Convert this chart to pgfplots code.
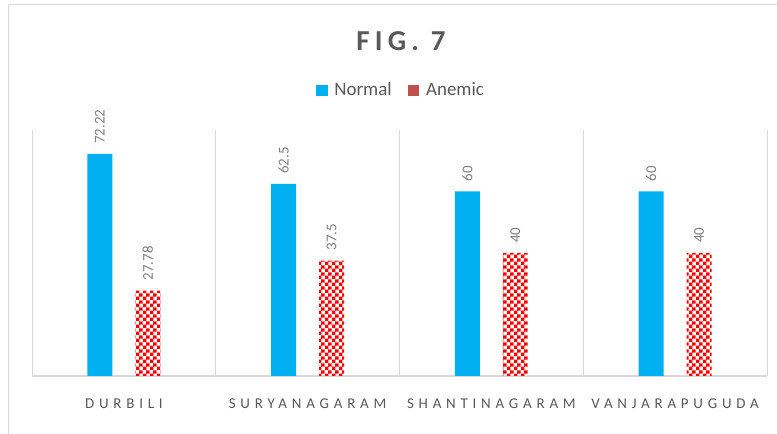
\documentclass[border=0pt]{standalone}
\usepackage{fontspec}
\setmainfont{Carlito}
\newfontfamily\titlefont[LetterSpace=18]{Carlito}
\newfontfamily\catfont[LetterSpace=32]{Carlito}
\usepackage{pgfplots}
\pgfplotsset{compat=1.18}
\usetikzlibrary{patterns}
\pgfdeclarepatternformonly{bigcheck}{\pgfpointorigin}{\pgfqpoint{7.2bp}{7.2bp}}{\pgfqpoint{7.2bp}{7.2bp}}{%
 \pgfpathrectangle{\pgfpointorigin}{\pgfqpoint{3.65bp}{3.65bp}}%
 \pgfpathrectangle{\pgfqpoint{3.6bp}{3.6bp}}{\pgfqpoint{3.65bp}{3.65bp}}%
 \pgfusepath{fill}}
\definecolor{nblue}{HTML}{00B0F0}
\definecolor{ared}{HTML}{FF0000}
\definecolor{legred}{HTML}{C0504D}
\definecolor{txt}{HTML}{595959}
\definecolor{lbl}{HTML}{7F7F7F}
\definecolor{framec}{HTML}{D9D9D9}
\begin{document}
\begin{tikzpicture}[x=1bp,y=1bp]
\useasboundingbox (0,0) rectangle (777,434);
\draw[framec, line width=1.5bp] (8.5,0) -- (8.5,429.5) -- (777,429.5);
\node[anchor=base, text=txt, inner sep=0, font=\titlefont\bfseries\fontsize{29}{32}\selectfont] at (401,383) {FIG. 7};
\begin{axis}[
  at={(32bp,58bp)}, anchor=south west,
  width=735bp, height=246bp, scale only axis,
  xmin=-0.5, xmax=3.5, ymin=0, ymax=80,
  axis line style={draw=none},
  ytick=\empty,
  xtick={0,1,2,3},
  xticklabels={DURBILI,SURYANAGARAM,SHANTINAGARAM,VANJARAPUGUDA},
  major tick length=0,
  xticklabel style={font=\catfont\fontsize{15}{17}\selectfont, text=txt, yshift=-19bp},
  extra x ticks={-0.5,0.5,1.5,2.5,3.5},
  extra x tick labels={},
  extra x tick style={grid=major, major grid style={framec, line width=1bp}},
  extra y ticks={0},
  extra y tick labels={},
  extra y tick style={grid=major, major grid style={framec, line width=1.2bp}},
  /pgf/number format/assume math mode=true,
  nodes near coords style={font=\fontsize{15}{17}\selectfont, text=lbl, rotate=90, anchor=west, inner xsep=10bp, inner ysep=0bp},
  legend columns=2,
  legend style={draw=none, fill=none, at={(0.502,1.163)}, anchor=center,
    font=\fontsize{19}{21}\selectfont, text=txt,
    /tikz/every even column/.append style={column sep=14bp}},
  clip=false,
]
\addlegendimage{legend image code/.code={\fill[nblue] (0bp,-5.5bp) rectangle (10.5bp,5bp); \path (16bp,0);}}
\addlegendentry{Normal}
\addlegendimage{legend image code/.code={\fill[legred] (0bp,-5.5bp) rectangle (10.5bp,5bp); \path (16bp,0);}}
\addlegendentry{Anemic}
% bars offset by +/-24bp from the category centre (0.1306 axis units)
\addplot[ybar, forget plot, bar width=25bp, bar shift=0pt, fill=nblue, draw=none, nodes near coords]
  coordinates {(-0.1306,72.22) (0.8694,62.5) (1.8694,60) (2.8694,60)};
\addplot[ybar, forget plot, bar width=25bp, bar shift=0pt, pattern=bigcheck, pattern color=ared, draw=none, nodes near coords]
  coordinates {(0.1306,27.78) (1.1306,37.5) (2.1306,40) (3.1306,40)};
\end{axis}
\end{tikzpicture}
\end{document}
